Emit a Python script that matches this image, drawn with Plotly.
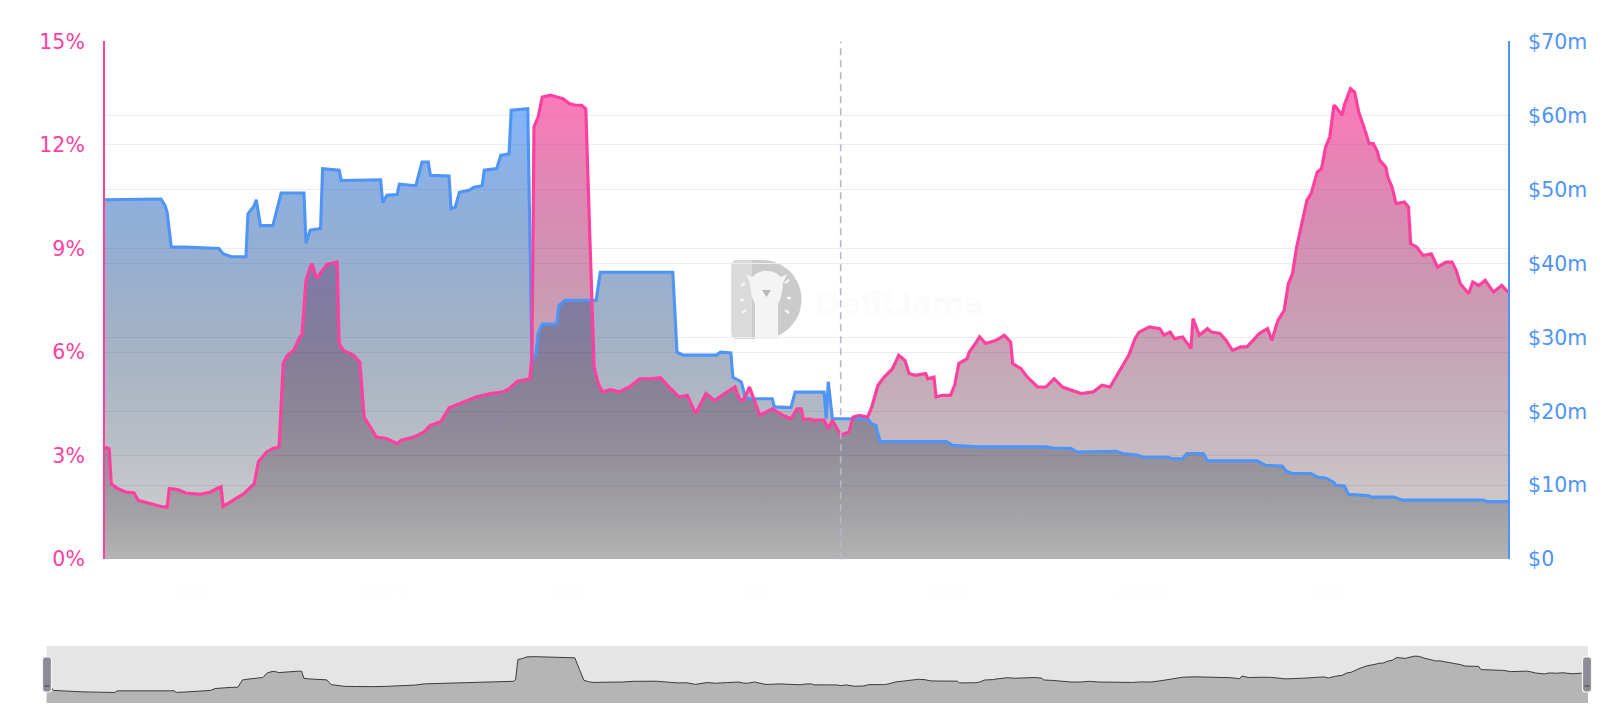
import numpy as np
import pandas as pd
import plotly.graph_objects as go

# ---------------- data ----------------
START = "2022-08-20"
END = "2024-06-27"

# pink series: days since START, value in %
pink_days = [0, 2, 3, 6, 10, 14, 16, 22, 27, 30, 31, 35, 39, 46, 51, 54, 56, 57, 62, 67,
             72, 74, 78, 81, 84, 86, 88, 91, 94, 95, 97, 99, 100, 102, 105, 107, 110, 112, 113, 115,
             120, 123, 125, 128, 131, 136, 141, 143, 149, 154, 157, 162, 166, 173, 179, 186, 192, 195, 199, 205,
             206, 207, 209, 211, 215, 218, 221, 224, 227, 230, 232, 234, 236, 238, 240, 244, 248, 253, 258, 263,
             268, 273, 277, 281, 285, 290, 294, 299, 304, 306, 308, 311, 316, 322, 327, 331, 334, 336, 337, 340,
             342, 347, 349, 351, 355, 359, 361, 364, 368, 370, 373, 376, 380, 383, 386, 388, 391, 396, 397, 400,
             401, 404, 408, 410, 412, 416, 417, 420, 422, 425, 430, 434, 437, 438, 442, 445, 448, 450, 454, 458,
             462, 467, 471, 477, 481, 485, 489, 494, 497, 499, 504, 509, 511, 514, 516, 520, 524, 525, 528, 532,
             534, 538, 541, 544, 548, 551, 554, 557, 561, 563, 566, 569, 571, 573, 575, 577, 580, 582, 584, 585,
             587, 589, 591, 593, 594, 597, 598, 601, 603, 605, 608, 610, 612, 614, 615, 618, 619, 621, 623, 627,
             629, 630, 633, 636, 640, 643, 647, 650, 652, 654, 658, 660, 663, 666, 670, 674, 677]
pink_pct = [3.25, 3.20, 2.19, 2.05, 1.95, 1.92, 1.71, 1.61, 1.53, 1.51, 2.05, 2.02, 1.92, 1.88, 1.95, 2.05, 2.10, 1.53, 1.71, 1.90,
            2.19, 2.82, 3.11, 3.21, 3.25, 5.67, 5.91, 6.05, 6.44, 6.49, 8.08, 8.46, 8.56, 8.13, 8.37, 8.54, 8.58, 8.61, 6.25, 6.05,
            5.91, 5.71, 4.12, 3.83, 3.54, 3.50, 3.35, 3.45, 3.54, 3.69, 3.88, 3.98, 4.38, 4.56, 4.70, 4.80, 4.85, 4.94, 5.16, 5.23,
            5.86, 12.52, 12.81, 13.39, 13.44, 13.39, 13.34, 13.20, 13.15, 13.15, 13.05, 9.24, 5.57, 5.09, 4.85, 4.91, 4.85, 4.99, 5.23, 5.23,
            5.26, 4.94, 4.70, 4.75, 4.22, 4.80, 4.60, 4.80, 4.99, 4.65, 4.60, 4.99, 4.17, 4.36, 4.17, 4.07, 4.36, 4.36, 4.05, 4.07,
            4.03, 4.03, 3.78, 4.03, 3.59, 3.69, 4.12, 4.17, 4.12, 4.41, 5.04, 5.28, 5.52, 5.91, 5.76, 5.38, 5.33, 5.38, 5.23, 5.28,
            4.70, 4.75, 4.75, 5.04, 5.67, 5.81, 6.00, 6.25, 6.44, 6.25, 6.34, 6.49, 6.29, 5.67, 5.52, 5.28, 5.09, 4.99, 4.99, 5.23,
            4.99, 4.89, 4.80, 4.85, 5.04, 4.99, 5.38, 5.91, 6.39, 6.58, 6.73, 6.68, 6.49, 6.58, 6.39, 6.44, 6.10, 6.97, 6.49, 6.68,
            6.58, 6.54, 6.34, 6.05, 6.15, 6.15, 6.34, 6.54, 6.68, 6.34, 6.92, 7.21, 7.98, 8.27, 9.04, 9.63, 10.40, 10.59, 10.98, 11.22,
            11.31, 11.94, 12.23, 13.15, 13.10, 12.86, 13.15, 13.63, 13.53, 12.95, 12.42, 12.04, 12.04, 11.80, 11.56, 11.36, 11.07, 10.78, 10.30, 10.35,
            10.20, 9.14, 9.04, 8.80, 8.85, 8.46, 8.61, 8.61, 8.37, 7.98, 7.69, 8.03, 7.93, 8.08, 7.74, 7.93, 7.74]

# blue series: days since START, value in $m
blue_days = [0, 27, 29, 30, 32, 39, 55, 57, 61, 68, 69, 72, 73, 75, 81, 83, 85, 96, 97, 99,
             104, 105, 113, 114, 133, 134, 136, 141, 142, 150, 153, 156, 157, 166, 167, 169, 171, 176, 178, 182,
             183, 189, 191, 195, 196, 204, 206, 208, 209, 211, 218, 219, 222, 237, 239, 274, 276, 279, 295, 297,
             302, 303, 307, 309, 311, 322, 323, 331, 333, 347, 348, 349, 351, 368, 370, 372, 374, 406, 409, 421,
             454, 458, 466, 469, 488, 491, 498, 501, 513, 515, 520, 522, 530, 532, 556, 560, 568, 570, 573, 582,
             585, 589, 593, 594, 598, 600, 610, 611, 622, 626, 665, 667, 677]
blue_musd = [48.6, 48.7, 47.8, 46.9, 42.2, 42.2, 42.0, 41.3, 40.9, 40.9, 46.7, 47.8, 48.6, 45.1, 45.1, 47.2, 49.5, 49.5, 42.7, 44.5,
             44.7, 52.8, 52.6, 51.2, 51.3, 48.2, 49.2, 49.3, 50.7, 50.5, 53.7, 53.7, 51.9, 51.8, 47.4, 47.6, 49.6, 49.9, 50.3, 50.5,
             52.6, 52.8, 54.6, 54.8, 60.7, 60.9, 26.7, 27.8, 30.5, 31.8, 31.8, 34.3, 35.0, 35.0, 38.8, 38.8, 28.0, 27.6, 27.6, 28.0,
             27.9, 24.6, 24.0, 21.9, 21.7, 21.7, 20.6, 20.5, 22.6, 22.6, 19.0, 24.0, 19.0, 19.0, 18.3, 18.1, 15.9, 15.9, 15.4, 15.2,
             15.2, 15.0, 15.0, 14.5, 14.6, 14.3, 14.1, 13.8, 13.8, 13.6, 13.6, 14.3, 14.3, 13.3, 13.3, 12.7, 12.6, 11.9, 11.6, 11.6,
             11.1, 11.0, 10.4, 10.0, 9.9, 8.8, 8.6, 8.4, 8.4, 8.0, 8.0, 7.8, 7.8]

x_tick_dates = ["2022-10-01", "2023-01-01", "2023-04-01", "2023-07-01", "2023-10-01", "2024-01-01", "2024-04-01"]
x_tick_labels = ["Oct", "2023", "Apr", "Jul", "Oct", "2024", "Apr"]
pct_ticks = [0, 3, 6, 9, 12, 15]
pct_labels = ["0%", "3%", "6%", "9%", "12%", "15%"]
usd_ticks = [0, 10, 20, 30, 40, 50, 60, 70]
usd_labels = ["$0", "$10m", "$20m", "$30m", "$40m", "$50m", "$60m", "$70m"]
event_date = "2023-08-10"

# ---------------- styling ----------------
W, H = 1624, 720
PINK = "#ff409f"
PINK_RGB = (255, 64, 160)
BLUE = "#4f94f7"
BLUE_RGB = (80, 151, 248)
GRID = "#ececf0"
FONT = "DejaVu Sans"
TICK_SIZE = 20.5

start = pd.Timestamp(START)
pink_x = start + pd.to_timedelta(np.array(pink_days), unit="D")
blue_x = start + pd.to_timedelta(np.array(blue_days), unit="D")


def grad(rgb, a_top=0.7, a_bot=0.16, n=21):
    stops = []
    for i in range(n):
        t = i / (n - 1)
        r, g, b = [c * t for c in rgb]
        a = a_bot + (a_top - a_bot) * t
        stops.append([t, f"rgba({r:.0f},{g:.0f},{b:.0f},{a:.3f})"])
    return stops


def px(x):
    return x / W


def py(y):
    return 1 - y / H


main_xd = [px(105), px(1508)]
main_yd = [py(559.3), py(41.4)]
mini_xd = [px(46.6), px(1588)]
mini_yd = [py(703), py(646)]

fig = go.Figure()

fig.add_trace(go.Scatter(
    x=pink_x, y=pink_pct, mode="lines", line=dict(width=0, color=PINK),
    fill="tozeroy",
    fillgradient=dict(type="vertical", colorscale=grad(PINK_RGB), start=0, stop=max(pink_pct)),
    xaxis="x", yaxis="y", hoverinfo="skip"))

fig.add_trace(go.Scatter(
    x=blue_x, y=blue_musd, mode="lines", line=dict(width=3.1, color=BLUE),
    fill="tozeroy",
    fillgradient=dict(type="vertical", colorscale=grad(BLUE_RGB), start=0, stop=max(blue_musd)),
    xaxis="x", yaxis="y2", hoverinfo="skip"))

fig.add_trace(go.Scatter(
    x=pink_x, y=pink_pct, mode="lines", line=dict(width=3.2, color=PINK),
    xaxis="x", yaxis="y3", hoverinfo="skip"))

# mini overview chart
fig.add_trace(go.Scatter(
    x=pink_x, y=pink_pct, mode="lines", line=dict(width=1, color="#3c3c3c"),
    fill="tozeroy", fillcolor="#b5b5b5",
    xaxis="x2", yaxis="y4", hoverinfo="skip"))

tickfont_pink = dict(color=PINK, size=TICK_SIZE, family=FONT)
tickfont_blue = dict(color=BLUE, size=TICK_SIZE, family=FONT)

shapes = [
    # mini band background
    dict(type="rect", xref="x2 domain", yref="y4 domain", x0=0, x1=1, y0=0, y1=1,
         fillcolor="#e5e5e5", line=dict(width=0), layer="below"),
    dict(type="rect", xref="x2 domain", yref="y4", x0=0, x1=1, y0=-2.0, y1=0,
         fillcolor="#b5b5b5", line=dict(width=0), layer="below"),
    # event marker
    dict(type="line", xref="x", yref="y domain", x0=event_date, x1=event_date, y0=0, y1=1,
         line=dict(color="#b6b8c8", width=1.6, dash="7px,5px"), layer="above"),
]


def P(x, y):
    return f"{px(x):.5f},{py(y):.5f}"


def rounded_rect(x0, y0, x1, y1, r):
    return (f"M{P(x0 + r, y0)} L{P(x1 - r, y0)} Q{P(x1, y0)} {P(x1, y0 + r)} L{P(x1, y1 - r)} "
            f"Q{P(x1, y1)} {P(x1 - r, y1)} L{P(x0 + r, y1)} Q{P(x0, y1)} {P(x0, y1 - r)} "
            f"L{P(x0, y0 + r)} Q{P(x0, y0)} {P(x0 + r, y0)} Z")


# handles of the overview band
for hx in (47.0, 1587.0):
    shapes.append(dict(type="path", xref="paper", yref="paper",
                       path=rounded_rect(hx - 4.5, 657, hx + 4.5, 692, 3),
                       fillcolor="#8c8c98", line=dict(color="#f4f4f4", width=1.2), layer="above"))
    shapes.append(dict(type="line", xref="paper", yref="paper",
                       x0=px(hx - 2.5), x1=px(hx + 2.5), y0=py(686), y1=py(686),
                       line=dict(color="#3c3c3c", width=1), layer="above"))

# watermark logo (D shape)
L, R_, T, B = 731.5, 801.5, 260.0, 339.0
rad = (B - T) / 2
cx, cy = R_ - rad, (T + B) / 2
k = 0.5523 * rad

d_path = (f"M{P(L + 6, T)} L{P(cx, T)} C{P(cx + k, T)} {P(R_, cy - k)} {P(R_, cy)} "
          f"C{P(R_, cy + k)} {P(cx + k, B)} {P(cx, B)} L{P(L + 6, B)} Q{P(L, B)} {P(L, B - 6)} "
          f"L{P(L, T + 6)} Q{P(L, T)} {P(L + 6, T)} Z")
strip_path = (f"M{P(L + 6, T)} L{P(752, T)} L{P(752, B)} L{P(L + 6, B)} Q{P(L, B)} {P(L, B - 6)} "
              f"L{P(L, T + 6)} Q{P(L, T)} {P(L + 6, T)} Z")
llama = [(755, 339), (755, 304), (753, 300), (751, 292), (750, 283), (746, 274), (752, 277), (757, 273),
         (763, 271), (770, 271), (776, 273), (781, 277), (787, 274), (783, 283), (782, 292), (780, 300),
         (778, 304), (778, 339)]
llama_path = "M" + " L".join(P(a, b) for a, b in llama) + " Z"
nose_path = f"M{P(762, 290)} L{P(771, 290)} L{P(766.5, 297)} Z"
shapes += [
    dict(type="path", xref="paper", yref="paper", path=d_path, fillcolor="#cbcbcb", line=dict(width=0), layer="below"),
    dict(type="path", xref="paper", yref="paper", path=strip_path, fillcolor="#dadada", line=dict(width=0), layer="below"),
    dict(type="path", xref="paper", yref="paper", path=llama_path, fillcolor="#f4f4f4", line=dict(width=0), layer="below"),
    dict(type="path", xref="paper", yref="paper", path=nose_path, fillcolor="#b8b8b8", line=dict(width=0), layer="below"),
]
# small white marks around the llama
for (ax, ay, bx, by) in [(741, 286, 745, 283), (740, 300, 744, 300), (742, 313, 746, 310),
                         (785, 283, 789, 280), (787, 298, 791, 298), (785, 310, 789, 313)]:
    shapes.append(dict(type="line", xref="paper", yref="paper", x0=px(ax), y0=py(ay), x1=px(bx), y1=py(by),
                       line=dict(color="#f4f4f4", width=2.5), layer="below"))

annotations = [
    dict(text="<b>DefiLlama</b>", xref="paper", yref="paper", x=px(813), y=py(303),
         xanchor="left", yanchor="middle", showarrow=False,
         font=dict(family=FONT, size=30, color="#fcfcfc")),
]

fig.update_layout(
    width=W, height=H, margin=dict(l=0, r=0, t=0, b=0),
    paper_bgcolor="white", plot_bgcolor="white",
    showlegend=False, hovermode=False,
    xaxis=dict(domain=main_xd, range=[START, END], type="date", anchor="y",
               tickmode="array", tickvals=x_tick_dates, ticktext=x_tick_labels,
               showgrid=False, zeroline=False, showline=False, ticks="",
               tickfont=dict(color="#fefefe", size=TICK_SIZE, family=FONT), ticklabelstandoff=18,
               automargin=False, fixedrange=True),
    yaxis=dict(domain=main_yd, range=[0, 15], side="left", anchor="x",
               tickmode="array", tickvals=pct_ticks, ticktext=pct_labels,
               showline=True, linecolor=PINK, linewidth=2, layer="below traces",
               showgrid=True, gridcolor=GRID, gridwidth=1, zeroline=False, ticks="",
               tickfont=tickfont_pink, ticklabelstandoff=14, automargin=False, fixedrange=True),
    yaxis2=dict(overlaying="y", side="right", range=[0, 70], anchor="x",
                tickmode="array", tickvals=usd_ticks, ticktext=usd_labels,
                showline=True, linecolor=BLUE, linewidth=2,
                showgrid=True, gridcolor=GRID, gridwidth=1, zeroline=False, ticks="",
                tickfont=tickfont_blue, ticklabelstandoff=14, automargin=False, fixedrange=True),
    yaxis3=dict(overlaying="y", range=[0, 15], visible=False, anchor="x", fixedrange=True),
    xaxis2=dict(domain=mini_xd, range=[START, END], type="date", visible=False, anchor="y4", fixedrange=True),
    yaxis4=dict(domain=mini_yd, range=[-2.0, 17.0], visible=False, anchor="x2", fixedrange=True),
    shapes=shapes, annotations=annotations,
)

fig.write_html("out.html", config={"displayModeBar": False, "staticPlot": True},
               post_script="document.body.style.margin='0';document.body.style.overflow='hidden';")
